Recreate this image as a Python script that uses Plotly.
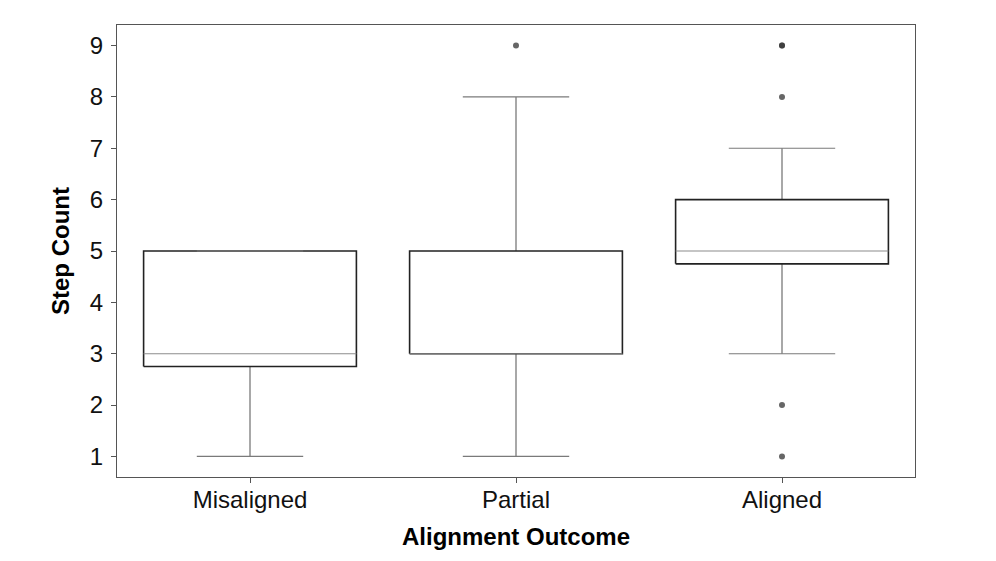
import plotly.graph_objects as go

categories = ["Misaligned", "Partial", "Aligned"]
q1 = [2.75, 3, 4.75]
median = [3, 3, 5]
q3 = [5, 5, 6]
lower_whisker = [1, 1, 3]
upper_whisker = [5, 8, 7]
outliers = [[], [9], [9, 9, 8, 2, 1]]

BOX_HALF = 0.4
CAP_HALF = 0.2

pos = list(range(len(categories)))

wx, wy, cx, cy, bx, by, mx, my = [], [], [], [], [], [], [], []
ox, oy = [], []
for i, c in enumerate(pos):
    wx += [c, c, None, c, c, None]
    wy += [lower_whisker[i], q1[i], None, q3[i], upper_whisker[i], None]
    cx += [c - CAP_HALF, c + CAP_HALF, None, c - CAP_HALF, c + CAP_HALF, None]
    cy += [lower_whisker[i], lower_whisker[i], None, upper_whisker[i], upper_whisker[i], None]
    bx += [c - BOX_HALF, c + BOX_HALF, c + BOX_HALF, c - BOX_HALF, c - BOX_HALF, None]
    by += [q1[i], q1[i], q3[i], q3[i], q1[i], None]
    mx += [c - BOX_HALF, c + BOX_HALF, None]
    my += [median[i], median[i], None]
    for v in outliers[i]:
        ox.append(c)
        oy.append(v)

fig = go.Figure()
fig.add_trace(go.Scatter(x=wx, y=wy, mode="lines", line=dict(color="#6e6e6e", width=1.2),
                         hoverinfo="skip", showlegend=False))
fig.add_trace(go.Scatter(x=bx, y=by, mode="lines", line=dict(color="#222222", width=1.6),
                         hoverinfo="skip", showlegend=False))
fig.add_trace(go.Scatter(x=cx, y=cy, mode="lines", line=dict(color="#7a7a7a", width=1.2),
                         hoverinfo="skip", showlegend=False))
fig.add_trace(go.Scatter(x=mx, y=my, mode="lines", line=dict(color="#8c8c8c", width=1.2),
                         hoverinfo="skip", showlegend=False))
fig.add_trace(go.Scatter(x=ox, y=oy, mode="markers",
                         marker=dict(color="#333333", size=6, opacity=0.75),
                         hoverinfo="skip", showlegend=False))

font_family = "Liberation Sans, Arial, Helvetica, sans-serif"
fig.update_layout(
    width=996, height=561,
    margin=dict(l=109, r=89, t=17, b=92),
    plot_bgcolor="white", paper_bgcolor="white",
    font=dict(family=font_family, size=24, color="black"),
    showlegend=False,
)
fig.update_xaxes(
    range=[-0.5, 2.5], tickvals=pos, ticktext=categories,
    showgrid=False, zeroline=False,
    showline=True, linecolor="#555555", linewidth=1, mirror=True,
    ticks="outside", ticklen=5, tickcolor="#555555",
    tickfont=dict(size=24, color="#111111"), ticklabelstandoff=-4,
    title=dict(text="<b>Alignment Outcome</b>", font=dict(size=24), standoff=16),
)
fig.update_yaxes(
    range=[0.6, 9.4], tickvals=list(range(1, 10)),
    showgrid=False, zeroline=False,
    showline=True, linecolor="#555555", linewidth=1, mirror=True,
    ticks="outside", ticklen=5, tickcolor="#555555",
    tickfont=dict(size=24, color="#111111"), ticklabelstandoff=3,
    title=dict(text="<b>Step Count</b>", font=dict(size=24), standoff=13),
)

fig.write_html("out.html")
